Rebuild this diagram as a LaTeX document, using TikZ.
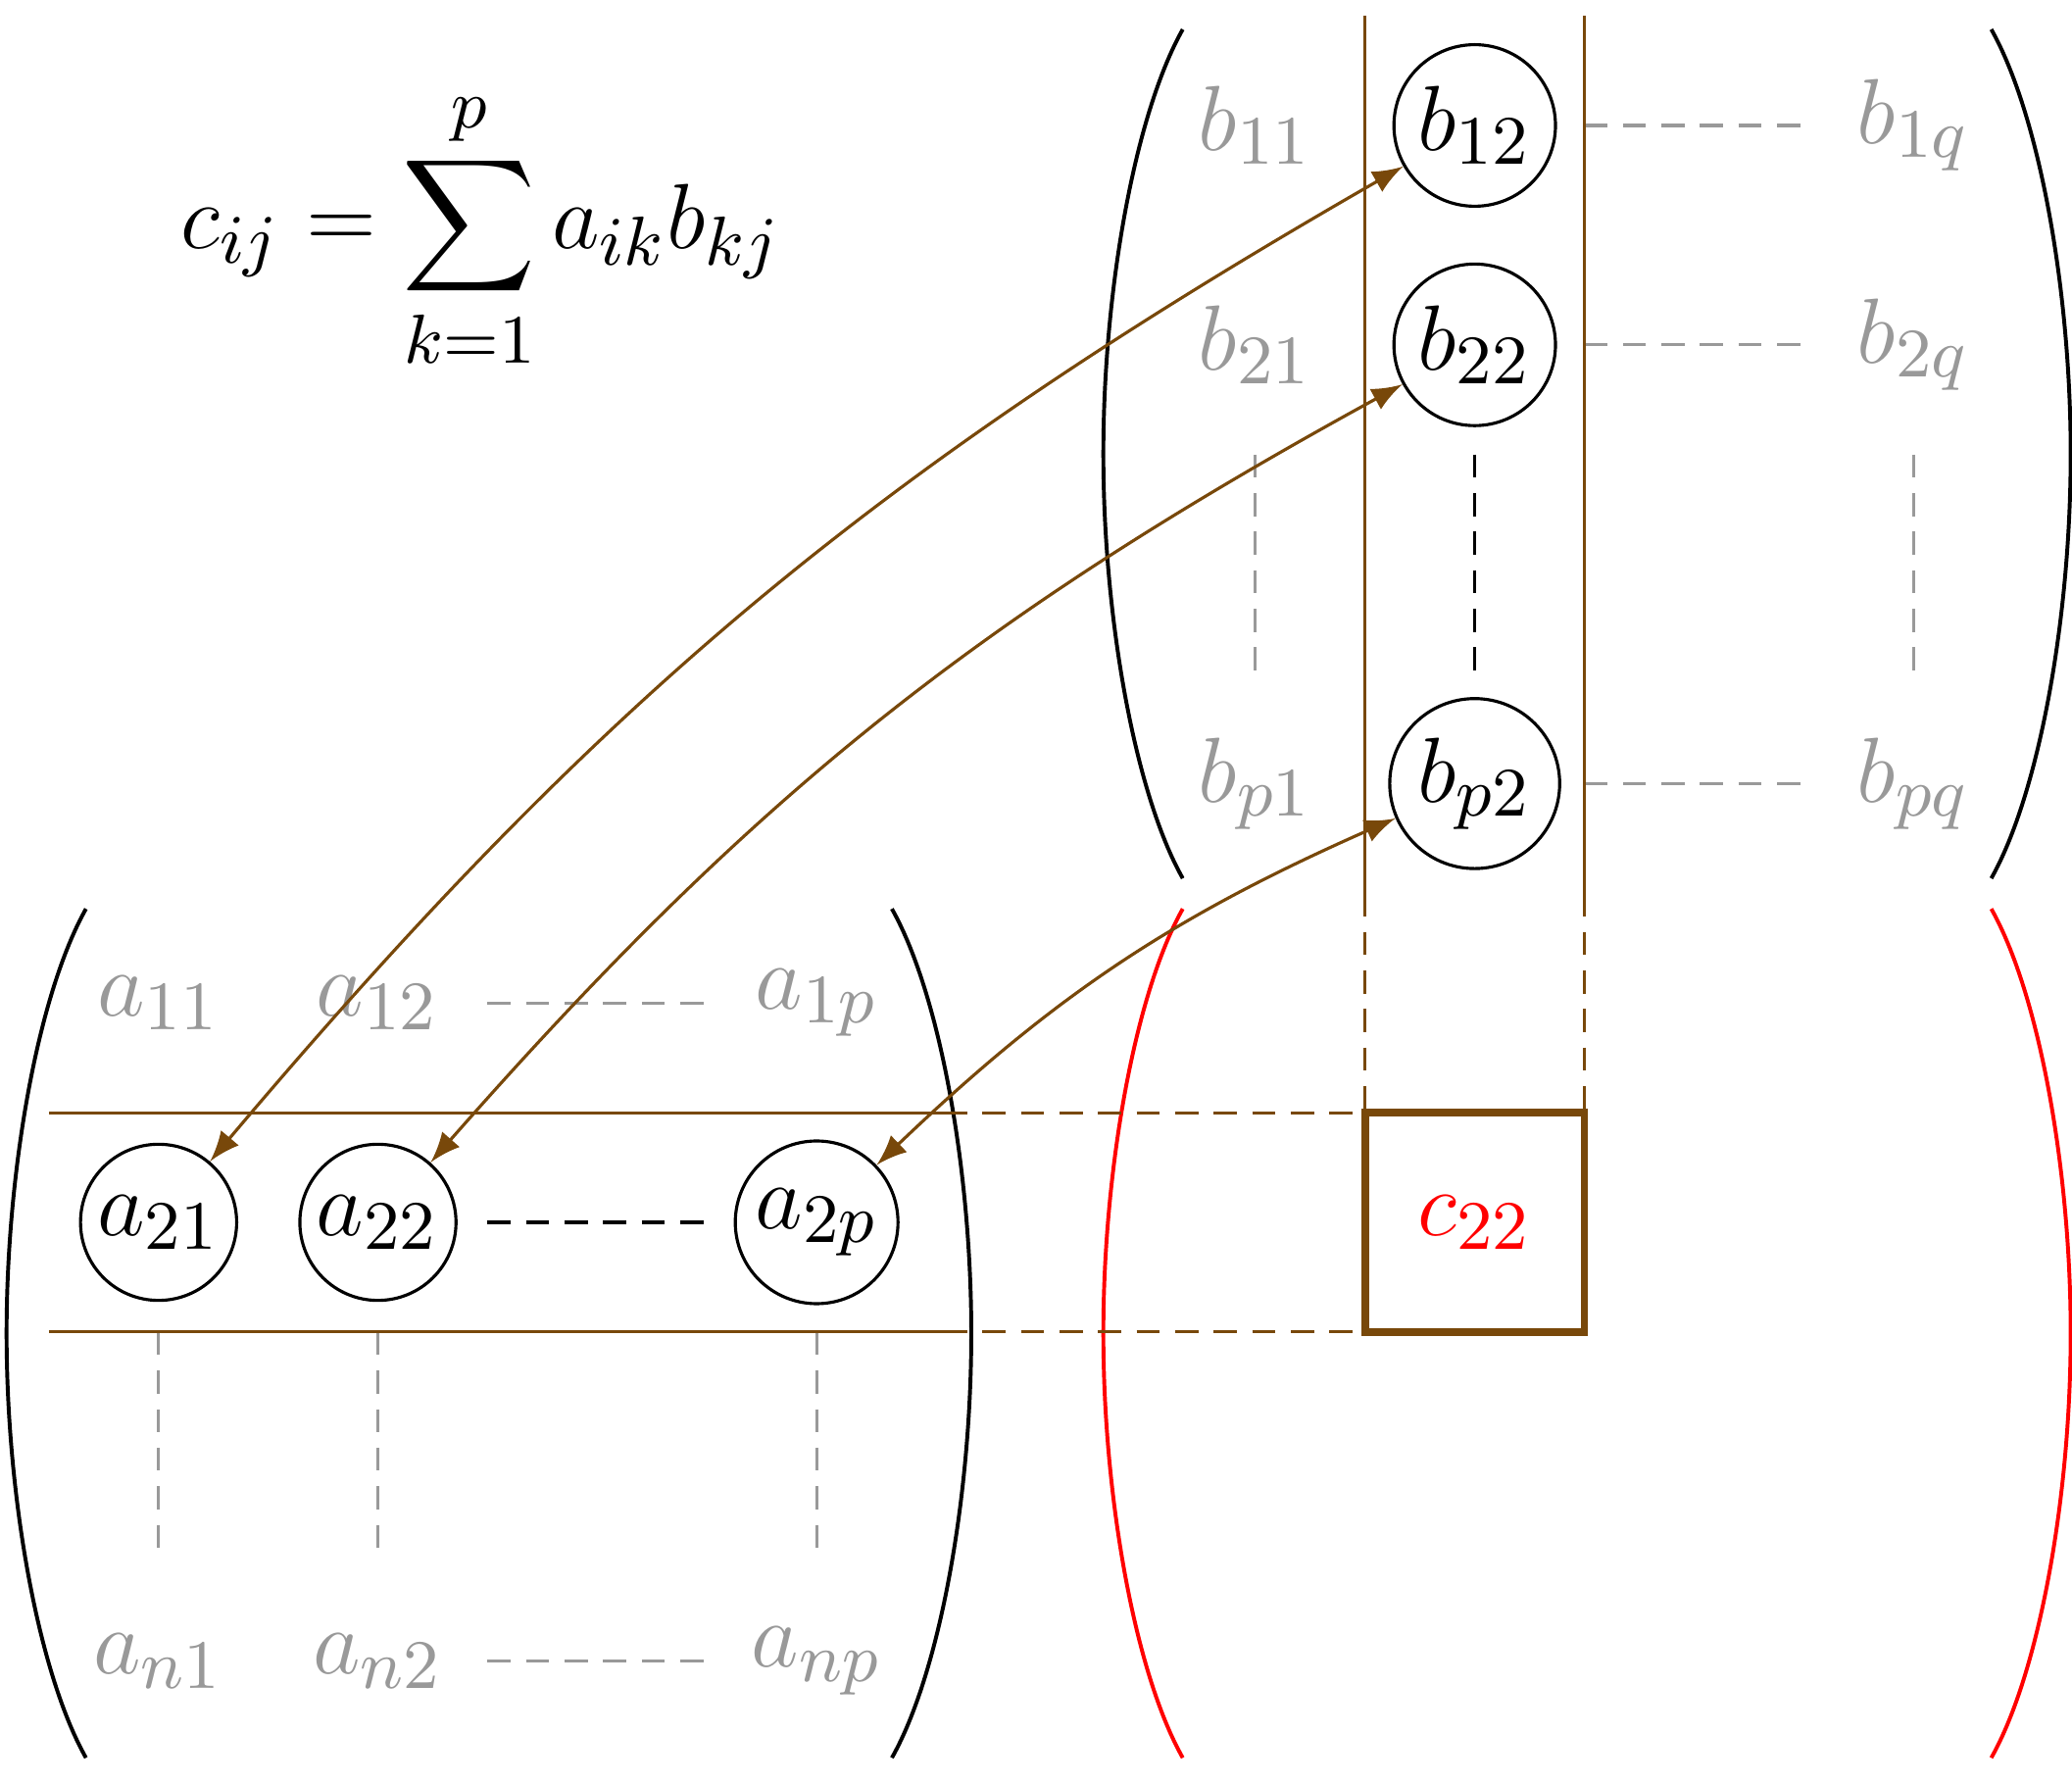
\documentclass[12pt,tikz,border=0pt]{standalone}
\usepackage{amsmath}
\definecolor{rowbrown}{RGB}{120,72,10}
% one tall parenthesis, drawn from its middle point
\newcommand{\tallparen}[1]{\draw[#1] (0.362,1.935) .. controls (0.145,1.55) and (0,0.75) .. (0,0) .. controls (0,-0.75) and (0.145,-1.55) .. (0.362,-1.935);}
\begin{document}
\begin{tikzpicture}[>=latex, font=\fontsize{12.6}{15}\selectfont,
  faded/.style={text=black!40},
  entry/.style={draw, circle, inner sep=1.1pt},
  delim/.style={line width=0.5pt},
  dotline/.style={densely dashed},
  fadeline/.style={densely dashed, black!40},
  guide/.style={rowbrown},
  guidedash/.style={rowbrown, densely dashed},
  link/.style={<->, rowbrown}]
\useasboundingbox (-5.723,0.572) rectangle (3.723,-7.56);
\node (sum) at (-3.53,-0.48) {$\displaystyle c_{ij} = \sum_{k=1}^{p} a_{ik} b_{kj}$};
% matrix A
\node[faded] (a11) at (-5,-4) {$a_{11}$};
\node[faded] (a12) at (-4,-4) {$a_{12}$};
\node[faded] (a1p) at (-2,-4) {$a_{1p}$};
\node[entry] (a21) at (-5,-5) {$a_{21}$};
\node[entry] (a22) at (-4,-5) {$a_{22}$};
\node[entry] (a2p) at (-2,-5) {$a_{2p}$};
\node[faded] (an1) at (-5,-7) {$a_{n1}$};
\node[faded] (an2) at (-4,-7) {$a_{n2}$};
\node[faded] (anp) at (-2,-7) {$a_{np}$};
\tallparen{delim, shift={(-5.693,-5.506)}}
\tallparen{delim, shift={(-1.295,-5.506)}, xscale=-1}
% matrix B
\node[faded] (b11) at (0,0) {$b_{11}$};
\node[entry] (b12) at (1,0) {$b_{12}$};
\node[faded] (b1q) at (3,0) {$b_{1q}$};
\node[faded] (b21) at (0,-1) {$b_{21}$};
\node[entry] (b22) at (1,-1) {$b_{22}$};
\node[faded] (b2q) at (3,-1) {$b_{2q}$};
\node[faded] (bp1) at (0,-3) {$b_{p1}$};
\node[entry] (bp2) at (1,-3) {$b_{p2}$};
\node[faded] (bpq) at (3,-3) {$b_{pq}$};
\tallparen{delim, shift={(-0.693,-1.497)}}
\tallparen{delim, shift={(3.717,-1.497)}, xscale=-1}
% matrix C
\node[draw=rowbrown, line width=1pt, minimum size=1cm, outer sep=0pt, text=red] (c22) at (1,-5) {$c_{22}$};
\tallparen{delim, red, shift={(-0.693,-5.506)}}
\tallparen{delim, red, shift={(3.717,-5.506)}, xscale=-1}
% dots
\draw[fadeline] ([xshift=0.5cm]a12.center) -- ([xshift=-0.5cm]a1p.center);
\draw[dotline] ([xshift=0.5cm]a22.center) -- ([xshift=-0.5cm]a2p.center);
\draw[fadeline] ([xshift=0.5cm]an2.center) -- ([xshift=-0.5cm]anp.center);
\draw[fadeline] ([yshift=-0.5cm]a21.center) -- ([yshift=0.5cm]an1.center);
\draw[fadeline] ([yshift=-0.5cm]a22.center) -- ([yshift=0.5cm]an2.center);
\draw[fadeline] ([yshift=-0.5cm]a2p.center) -- ([yshift=0.5cm]anp.center);
\draw[fadeline] ([xshift=0.5cm]b12.center) -- ([xshift=-0.5cm]b1q.center);
\draw[fadeline] ([xshift=0.5cm]b22.center) -- ([xshift=-0.5cm]b2q.center);
\draw[fadeline] ([xshift=0.5cm]bp2.center) -- ([xshift=-0.5cm]bpq.center);
\draw[fadeline] ([yshift=-0.5cm]b21.center) -- ([yshift=0.5cm]bp1.center);
\draw[dotline] ([yshift=-0.5cm]b22.center) -- ([yshift=0.5cm]bp2.center);
\draw[fadeline] ([yshift=-0.5cm]b2q.center) -- ([yshift=0.5cm]bpq.center);
% row and column guides
\draw[guide] ([shift={(-0.5,0.5)}]a21.center) -- ([shift={(0.58,0.5)}]a2p.center);
\draw[guidedash] ([shift={(0.58,0.5)}]a2p.center) -- (c22.north west);
\draw[guide] ([shift={(-0.5,-0.5)}]a21.center) -- ([shift={(0.58,-0.5)}]a2p.center);
\draw[guidedash] ([shift={(0.58,-0.5)}]a2p.center) -- (c22.south west);
\draw[guide] ([shift={(-0.5,0.5)}]b12.center) -- ([shift={(-0.5,-0.5)}]bp2.center);
\draw[guidedash] ([shift={(-0.5,-0.5)}]bp2.center) -- (c22.north west);
\draw[guide] ([shift={(0.5,0.5)}]b12.center) -- ([shift={(0.5,-0.5)}]bp2.center);
\draw[guidedash] ([shift={(0.5,-0.5)}]bp2.center) -- (c22.north east);
% products
\draw[link] (a21) to[bend left=10] (b12);
\draw[link] (a22) to[bend left=10] (b22);
\draw[link] (a2p) to[bend left=10] (bp2);
\end{tikzpicture}
\end{document}
